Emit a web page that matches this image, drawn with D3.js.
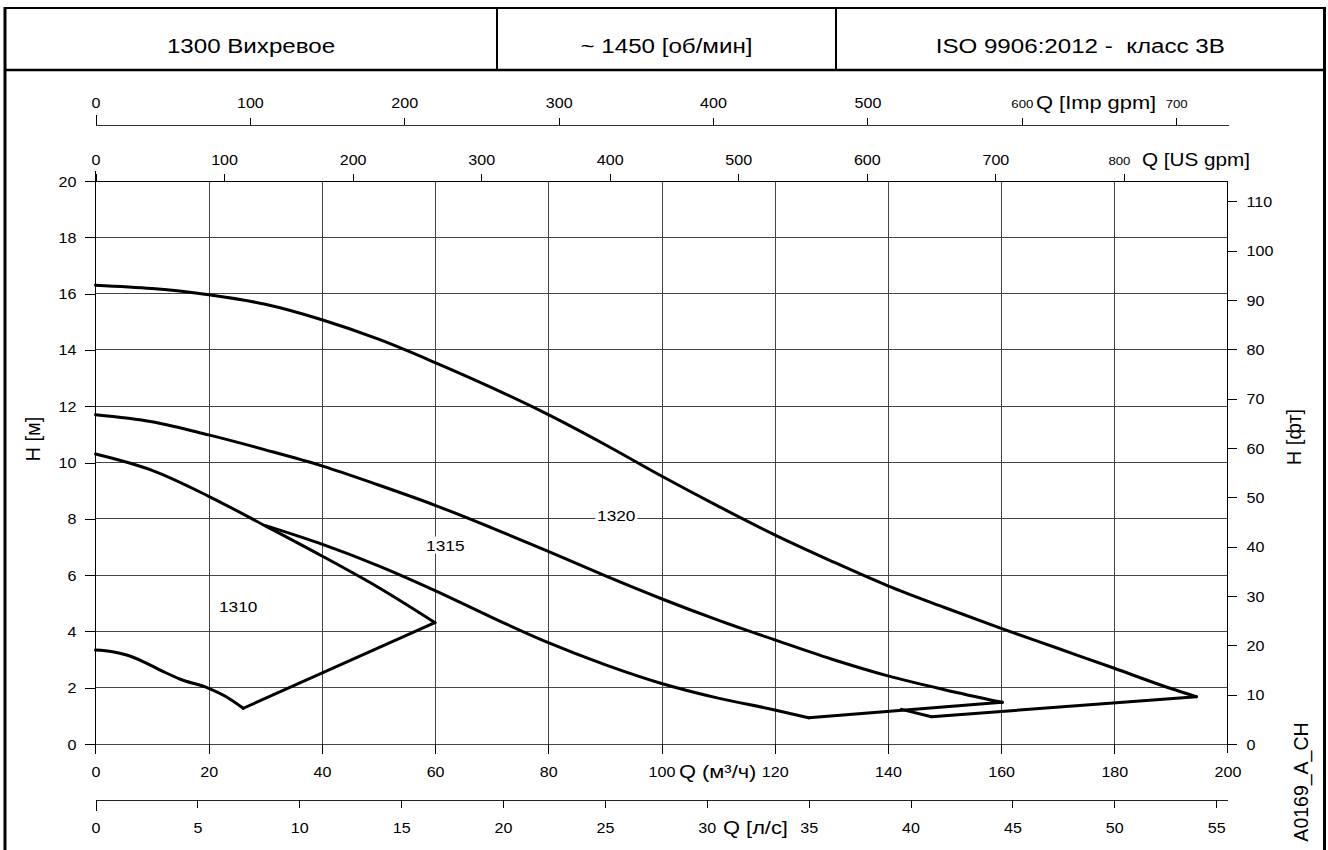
<!DOCTYPE html>
<html><head><meta charset="utf-8">
<script src="https://cdn.jsdelivr.net/npm/d3@7"></script>
<style>
body{margin:0;background:#fff}
svg{display:block}
text{font-family:"Liberation Sans",Arial,Helvetica,sans-serif;fill:#000;white-space:pre}
</style>
</head><body>
<svg id="c" width="1328" height="850"></svg>
<script>
// ---------------- data ----------------
const headerTexts = ["1300 Вихревое", "~ 1450 [об/мин]", "ISO 9906:2012 -  класс 3B"];
const flowTicksM3h = [0,20,40,60,80,100,120,140,160,180,200];
const flowTicksLs = [0,5,10,15,20,25,30,35,40,45,50,55];
const flowTicksUsGpm = [0,100,200,300,400,500,600,700,800];
const flowTicksImpGpm = [0,100,200,300,400,500,600,700];
const headTicksM = [0,2,4,6,8,10,12,14,16,18,20];
const headTicksFt = [0,10,20,30,40,50,60,70,80,90,100,110];
const smallTicksUsGpm = [800];
const smallTicksImpGpm = [600,700];

// curves: [Q m3/h, H m]
const curve1310Max = [[0,10.3],[10,9.72],[20,8.8],[30,7.75],[40,6.68],[50,5.56],[60,4.31]];
const curve1310Min = [[0,3.34],[3,3.28],[5.5,3.16],[8.4,2.93],[12,2.57],[15,2.3],[20,1.98],[23.1,1.68],[26.1,1.27]];
const end1310 = [[26.1,1.27],[59.95,4.31]];
const curve1315Max = [[0,11.7],[10,11.45],[20,10.98],[30,10.45],[40,9.88],[50,9.2],[60,8.48],[70,7.68],[80,6.84],[90,5.98],[100,5.16],[110,4.4],[120,3.7],[130,3.02],[140,2.42],[150,1.93],[160.2,1.48]];
const curve1315Min = [[30.2,7.75],[40,7.1],[50,6.33],[60,5.45],[70,4.5],[80,3.6],[90,2.82],[100,2.15],[110,1.63],[120,1.21],[126,0.93]];
const end1315 = [[126,0.93],[160.2,1.48]];
const curve1320Max = [[0,16.3],[10,16.18],[20,15.96],[30,15.62],[40,15.07],[50,14.38],[60,13.55],[70,12.66],[80,11.7],[90,10.64],[100,9.52],[110,8.45],[120,7.43],[130,6.5],[140,5.62],[150,4.85],[160,4.11],[170,3.4],[180,2.69],[190,1.97],[194.5,1.68]];
const curve1320Min = [[142.4,1.23],[147.7,0.97]];
const end1320 = [[147.7,0.97],[194.5,1.68]];
const labelNames = ["1310","1315","1320"];
const labelQ = [25.2,61.8,92];
const labelH = [4.88,7.05,8.1];

// ---------------- layout ----------------
const SX = 1.15;
const svg = d3.select("#c");
const X0 = 95.5, X1 = 1227.5, Y0 = 744, Y1 = 181;
const x = d3.scaleLinear().domain([0,200]).range([X0,X1]);
const y = d3.scaleLinear().domain([0,20]).range([Y0,Y1]);
const yFt = d3.scaleLinear().domain([0,114.14]).range([Y0,Y1]);
const xLs = d3.scaleLinear().domain([0,200/3.6]).range([X0,X1]);
const xUs = d3.scaleLinear().domain([0,200/0.2271247]).range([X0,X1]);
const xImp = d3.scaleLinear().domain([0,200/0.272765]).range([X0,X1]);

function stretch(sel){
  sel.each(function(){
    const t = d3.select(this);
    const tx = +t.attr("x")||0, ty = +t.attr("y")||0;
    t.attr("x",0).attr("y",0).attr("dy",null)
     .attr("transform",`translate(${tx},${ty}) scale(${SX},1)`);
  });
}

// ---------------- frame / header ----------------
const frame = svg.append("g").attr("stroke","#000").attr("fill","none");
frame.append("line").attr("x1",5).attr("x2",5).attr("y1",7).attr("y2",850).attr("stroke-width",3);
frame.append("line").attr("x1",1324.5).attr("x2",1324.5).attr("y1",7).attr("y2",850).attr("stroke-width",3);
frame.append("line").attr("x1",4).attr("x2",1326).attr("y1",8).attr("y2",8).attr("stroke-width",2);
frame.append("line").attr("x1",4).attr("x2",1326).attr("y1",70).attr("y2",70).attr("stroke-width",2.5);
const dividers = [5,497,836,1324.5];
[497,836].forEach(d=>frame.append("line").attr("x1",d).attr("x2",d).attr("y1",8).attr("y2",70).attr("stroke-width",2));
const hdr = svg.append("g");
headerTexts.forEach((t,i)=>{
  hdr.append("text").attr("x",(dividers[i]+dividers[i+1])/2).attr("y",53)
    .attr("text-anchor","middle").attr("font-size",21).text(t);
});
stretch(hdr.selectAll("text"));

// ---------------- grid ----------------
const grid = svg.append("g").attr("stroke","#444").attr("stroke-width",1).attr("shape-rendering","crispEdges");
grid.selectAll(".gv").data(flowTicksM3h.filter(d=>d>0&&d<200)).enter().append("line")
  .attr("x1",d=>Math.round(x(d))+0.5).attr("x2",d=>Math.round(x(d))+0.5).attr("y1",Y1).attr("y2",Y0);
grid.selectAll(".gh").data(headTicksM.filter(d=>d<20)).enter().append("line")
  .attr("x1",X0).attr("x2",X1).attr("y1",d=>y(d)).attr("y2",d=>y(d));
svg.append("line").attr("x1",X0).attr("x2",X1).attr("y1",Y1).attr("y2",Y1).attr("stroke","#000").attr("shape-rendering","crispEdges");
svg.append("line").attr("x1",X0).attr("x2",X0).attr("y1",Y1-10).attr("y2",Y0+10).attr("stroke","#000").attr("shape-rendering","crispEdges");
svg.append("line").attr("x1",X1).attr("x2",X1).attr("y1",Y1).attr("y2",Y0+9).attr("stroke","#000").attr("shape-rendering","crispEdges");

function styleAxis(g){
  g.select(".domain").remove();
  g.selectAll(".tick line").attr("stroke","#000").attr("shape-rendering","crispEdges");
  g.selectAll("text").attr("font-size",14).attr("font-family",null).attr("fill","#000");
  g.attr("font-family",null);
}

// left axis
const gL = svg.append("g").attr("transform",`translate(${X0},0)`)
  .call(d3.axisLeft(y).tickValues(headTicksM).tickSize(11).tickFormat(d3.format("d")));
styleAxis(gL);
gL.selectAll("text").attr("x",-19).attr("y",5);
stretch(gL.selectAll("text"));

// right axis (ft)
const gR = svg.append("g").attr("transform",`translate(${X1},0)`)
  .call(d3.axisRight(yFt).tickValues(headTicksFt).tickSize(9).tickFormat(d3.format("d")));
styleAxis(gR);
gR.selectAll("text").attr("x",19).attr("y",5);
stretch(gR.selectAll("text"));

// bottom m3/h
const gB = svg.append("g").attr("transform",`translate(0,${Y0})`)
  .call(d3.axisBottom(x).tickValues(flowTicksM3h).tickSize(10).tickFormat(d3.format("d")));
styleAxis(gB);
gB.selectAll(".tick line").filter(d=>d===0||d===200).remove();
gB.selectAll("text").attr("y",33);
stretch(gB.selectAll("text"));

// l/s axis
const LSY = 800;
svg.append("line").attr("x1",X0).attr("x2",X1).attr("y1",LSY).attr("y2",LSY).attr("stroke","#222").attr("shape-rendering","crispEdges");
const gLs = svg.append("g").attr("transform",`translate(0,${LSY})`)
  .call(d3.axisBottom(xLs).tickValues(flowTicksLs).tickSize(8).tickFormat(d3.format("d")));
styleAxis(gLs);
gLs.selectAll(".tick line").filter(d=>d===0).attr("y2",11);
gLs.selectAll("text").attr("y",33);
stretch(gLs.selectAll("text"));

// US gpm axis (top of plot)
const gUs = svg.append("g").attr("transform",`translate(0,${Y1})`)
  .call(d3.axisTop(xUs).tickValues(flowTicksUsGpm).tickSize(7).tickFormat(d3.format("d")));
styleAxis(gUs);
gUs.selectAll("text").attr("y",-16.5);
gUs.selectAll("text").filter(d=>smallTicksUsGpm.includes(d)).attr("font-size",11.5).attr("x",-5);
stretch(gUs.selectAll("text"));

// Imp gpm axis
const IMPY = 125;
svg.append("line").attr("x1",X0).attr("x2",X1+1).attr("y1",IMPY).attr("y2",IMPY).attr("stroke","#333").attr("shape-rendering","crispEdges");
const gImp = svg.append("g").attr("transform",`translate(0,${IMPY})`)
  .call(d3.axisTop(xImp).tickValues(flowTicksImpGpm).tickSize(7).tickFormat(d3.format("d")));
styleAxis(gImp);
gImp.selectAll(".tick line").filter(d=>d===0).attr("y2",-10);
gImp.selectAll("text").attr("y",-17);
gImp.selectAll("text").filter(d=>smallTicksImpGpm.includes(d)).attr("font-size",11.5);
stretch(gImp.selectAll("text"));

// axis titles
const titles = svg.append("g").attr("font-size",18);
titles.append("text").attr("x",1036).attr("y",109).attr("font-size",19).text("Q [Imp gpm]");
titles.append("text").attr("x",1142).attr("y",166).text("Q [US gpm]");
titles.append("text").attr("x",679).attr("y",778).attr("font-size",19).text("Q (м³/ч)");
titles.append("text").attr("x",723).attr("y",834).attr("font-size",19).text("Q [л/с]");
stretch(titles.selectAll("text"));

svg.append("text").attr("transform","translate(40,439) rotate(-90)").attr("text-anchor","middle").attr("font-size",20).text("H [м]");
svg.append("text").attr("transform","translate(1301,437) rotate(-90)").attr("text-anchor","middle").attr("font-size",20).text("H [фт]");
svg.append("text").attr("transform","translate(1308,782) rotate(-90)").attr("text-anchor","middle").attr("font-size",19.5).text("A0169_A_CH");

// ---------------- curves ----------------
const smooth = d3.line().x(d=>x(d[0])).y(d=>y(d[1])).curve(d3.curveMonotoneX);
const straight = d3.line().x(d=>x(d[0])).y(d=>y(d[1]));
const cg = svg.append("g").attr("fill","none").attr("stroke","#000").attr("stroke-width",3)
  .attr("stroke-linejoin","round").attr("stroke-linecap","round");
[curve1310Max,curve1310Min,curve1315Max,curve1315Min,curve1320Max].forEach(c=>cg.append("path").attr("d",smooth(c)));
[end1310,end1315,curve1320Min,end1320].forEach(c=>cg.append("path").attr("d",straight(c)));

// labels
const lg = svg.append("g");
labelNames.forEach((n,i)=>{
  const cx = x(labelQ[i]), cy = y(labelH[i]);
  lg.append("rect").attr("x",cx-21).attr("y",cy-9).attr("width",42).attr("height",17).attr("fill","#fff");
  lg.append("text").attr("x",cx).attr("y",cy+5.5).attr("text-anchor","middle").attr("font-size",15).text(n);
});
stretch(lg.selectAll("text"));
</script>
</body></html>
